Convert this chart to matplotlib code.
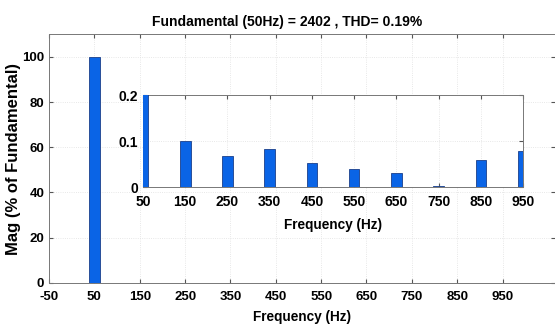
import numpy as np
import matplotlib
matplotlib.use('Agg')
import matplotlib.pyplot as plt

plt.rcParams['font.family'] = 'Liberation Sans'
plt.rcParams['font.weight'] = 'bold'
plt.rcParams['axes.unicode_minus'] = False

# harmonic spectrum, % of fundamental
freq = [50, 150, 250, 350, 450, 550, 650, 750, 850, 950]
mag = [100, 0.100, 0.067, 0.083, 0.053, 0.039, 0.030, 0.003, 0.058, 0.079]
main_ticks = [-50, 50, 150, 250, 350, 450, 550, 650, 750, 850, 950]
inset_ticks = [50, 150, 250, 350, 450, 550, 650, 750, 850, 950]

bar_col = '#0a64e6'
edge_col = '#1a3f8a'

fig = plt.figure(figsize=(5.55, 3.27), dpi=100)
ax = fig.add_axes([0.0883, 0.1346, 0.912, 0.761])
ax.bar(freq, mag, width=25, color=bar_col, edgecolor=edge_col, linewidth=0.6, zorder=3)
ax.set_xlim(-50, 1066)
ax.set_ylim(0, 110)
ax.set_xticks(main_ticks)
ax.set_yticks([0, 20, 40, 60, 80, 100])
ax.tick_params(direction='in', top=True, right=True, labelsize=9.5, length=3, color='#555555')
ax.tick_params(axis='x', pad=6)
ax.grid(True, linestyle=':', color='#e0e0e0', linewidth=0.6)
ax.set_xlabel('Frequency (Hz)', fontsize=9.8, fontweight='bold', labelpad=5)
ax.set_ylabel('Mag (% of Fundamental)', fontsize=12, fontweight='bold', labelpad=1)
ax.set_title('Fundamental (50Hz) = 2402 , THD= 0.19%', fontsize=10, fontweight='bold',
             pad=6, x=0.47)
for s in ax.spines.values():
    s.set_color('#777777')
    s.set_linewidth(0.7)

ins = fig.add_axes([0.2577, 0.428, 0.6847, 0.2813])
ins.bar(freq, mag, width=25, color=bar_col, edgecolor=edge_col, linewidth=0.6, zorder=3)
ins.set_xlim(50, 950)
ins.set_ylim(0, 0.2)
ins.set_xticks(inset_ticks)
ins.set_yticks([0, 0.1, 0.2])
ins.set_yticklabels(['0', '0.1', '0.2'])
ins.tick_params(direction='in', top=True, right=True, labelsize=10, length=3, color='#555555')
ins.tick_params(axis='x', pad=6)
ins.grid(True, linestyle=':', color='#e0e0e0', linewidth=0.6)
ins.set_xlabel('Frequency (Hz)', fontsize=9.8, fontweight='bold', labelpad=6)
for s in ins.spines.values():
    s.set_color('#777777')
    s.set_linewidth(0.7)

fig.savefig('out.png', dpi=100)
